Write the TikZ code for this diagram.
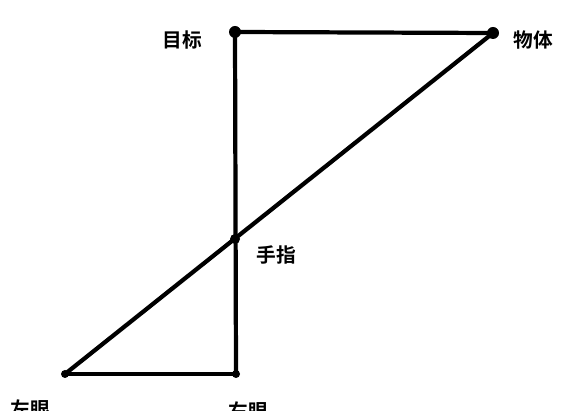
\documentclass[tikz,border=0pt]{standalone}
\usepackage{fontspec}
\newfontfamily\cjk{Noto Sans CJK SC}[BoldFont={Noto Sans CJK SC Bold}]
\usepackage{tikz}

\begin{document}
\begin{tikzpicture}[x=0.025cm, y=-0.025cm,
     every node/.style={font=\cjk\bfseries\fontsize{14}{16}\selectfont, inner sep=0pt},
     sight/.style={line width=3pt},
     dot/.style={fill, circle, inner sep=0pt}]
     \useasboundingbox (0,0) rectangle (565,411);
     \coordinate (T) at (235,32);
     \coordinate (O) at (493,33);
     \coordinate (F) at (235,239);
     \coordinate (L) at (65,374);
     \coordinate (R) at (236,374);

     \draw[sight] (T) -- (O);
     \draw[sight] (T) -- (R);
     \draw[sight] (L) -- (R);
     \draw[sight] (L) -- (O);

     \fill (T) circle (6);
     \fill (O) circle (6);
     \fill (F) circle (5);
     \fill (L) circle (4);
     \fill (R) circle (4);

     \node (target) at (182,40) {目标};
     \node (object) at (533,40) {物体};
     \node (finger) at (276,255) {手指};
     \node (lefteye) at (30,409) {左眼};
     \node (righteye) at (248,411) {右眼};
\end{tikzpicture}
\end{document}
